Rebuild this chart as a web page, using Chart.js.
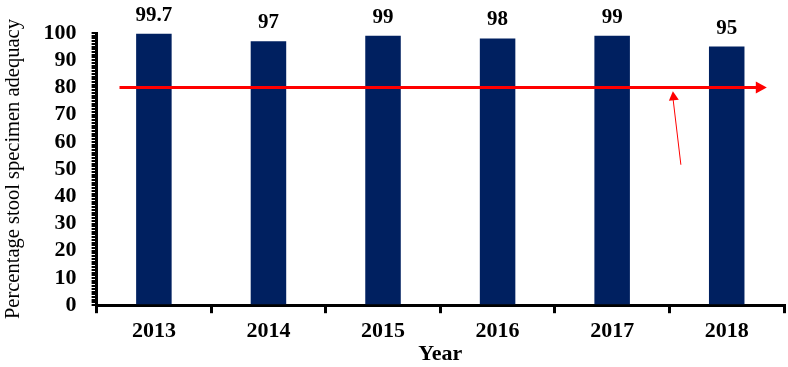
<!DOCTYPE html>
<html>
<head>
<meta charset="utf-8">
<script src="https://cdn.jsdelivr.net/npm/chart.js@4/dist/chart.umd.min.js"></script>
<style>
  html, body { margin: 0; padding: 0; background: #ffffff; }
  #wrap { width: 788px; height: 367px; }
</style>
</head>
<body>
<div id="wrap"><canvas id="adequacyChart" width="788" height="367"></canvas></div>
<script>
// Chart data
const years = ['2013', '2014', '2015', '2016', '2017', '2018'];
const adequacy = [99.7, 97, 99, 98, 99, 95];
const valueLabels = ['99.7', '97', '99', '98', '99', '95'];
const target = 80;
// target arrow runs across the categories (index units)
const targetFrom = -0.3;
const targetTo = 5.35;
// small pointer arrow: [categoryIndex, value]
const pointerStart = [4.6, 51.6];
const pointerEnd = [4.53, 78.6];

const serif = '"Liberation Serif", "Times New Roman", serif';

function arrowHead(ctx, x1, y1, x2, y2, len, half) {
    const a = Math.atan2(y2 - y1, x2 - x1);
    ctx.beginPath();
    ctx.moveTo(x2, y2);
    ctx.lineTo(x2 - len * Math.cos(a) + half * Math.sin(a), y2 - len * Math.sin(a) - half * Math.cos(a));
    ctx.lineTo(x2 - len * Math.cos(a) - half * Math.sin(a), y2 - len * Math.sin(a) + half * Math.cos(a));
    ctx.closePath();
    ctx.fill();
}

// value labels above the bars
const barLabels = {
    id: 'barLabels',
    afterDatasetsDraw(chart) {
        const ctx = chart.ctx;
        const meta = chart.getDatasetMeta(0);
        ctx.save();
        ctx.font = 'bold 21px ' + serif;
        ctx.fillStyle = '#000000';
        ctx.textAlign = 'center';
        ctx.textBaseline = 'bottom';
        meta.data.forEach((bar, i) => {
            ctx.fillText(valueLabels[i], bar.x, bar.y - 8);
        });
        ctx.restore();
    }
};

// red target line and pointer
const targetArrows = {
    id: 'targetArrows',
    afterDatasetsDraw(chart) {
        const ctx = chart.ctx;
        const x = chart.scales.x, y = chart.scales.y;
        ctx.save();
        ctx.strokeStyle = '#ff0000';
        ctx.fillStyle = '#ff0000';

        const ty = y.getPixelForValue(target);
        const x1 = x.getPixelForValue(targetFrom);
        const x2 = x.getPixelForValue(targetTo);
        ctx.lineWidth = 3;
        ctx.beginPath();
        ctx.moveTo(x1, ty);
        ctx.lineTo(x2 - 8, ty);
        ctx.stroke();
        arrowHead(ctx, x1, ty, x2, ty, 11, 6);

        const px1 = x.getPixelForValue(pointerStart[0]);
        const py1 = y.getPixelForValue(pointerStart[1]);
        const px2 = x.getPixelForValue(pointerEnd[0]);
        const py2 = y.getPixelForValue(pointerEnd[1]);
        ctx.lineWidth = 1;
        ctx.beginPath();
        ctx.moveTo(px1, py1);
        ctx.lineTo(px2, py2 + 6);
        ctx.stroke();
        arrowHead(ctx, px1, py1, px2, py2, 9, 5);
        ctx.restore();
    }
};

new Chart(document.getElementById('adequacyChart'), {
    type: 'bar',
    data: {
        labels: years,
        datasets: [{
            data: adequacy,
            backgroundColor: '#002060',
            barPercentage: 0.31,
            categoryPercentage: 1.0
        }]
    },
    options: {
        responsive: false,
        animation: false,
        layout: {
            padding: { top: 33, right: 4, left: 1, bottom: 0 }
        },
        plugins: {
            legend: { display: false },
            tooltip: { enabled: false }
        },
        scales: {
            y: {
                min: 0,
                max: 100,
                border: { display: true, color: '#000000', width: 3 },
                grid: {
                    display: true,
                    drawOnChartArea: false,
                    color: '#000000',
                    lineWidth: 2,
                    tickLength: 5
                },
                ticks: {
                    stepSize: 1,
                    autoSkip: false,
                    padding: 15,
                    color: '#000000',
                    font: { family: serif, size: 22, weight: 'bold' },
                    callback: v => (v % 10 === 0 ? v : '')
                },
                title: {
                    display: true,
                    text: 'Percentage stool specimen adequacy',
                    color: '#000000',
                    font: { family: serif, size: 20.5 },
                    padding: { top: 0, bottom: 3 }
                }
            },
            x: {
                border: { display: true, color: '#000000', width: 3 },
                grid: {
                    display: true,
                    drawOnChartArea: false,
                    offset: true,
                    color: '#000000',
                    lineWidth: 3,
                    tickLength: 8
                },
                ticks: {
                    padding: 5,
                    color: '#000000',
                    font: { family: serif, size: 22, weight: 'bold' }
                },
                title: {
                    display: true,
                    text: 'Year',
                    color: '#000000',
                    font: { family: serif, size: 22, weight: 'bold' },
                    padding: { top: -8, bottom: -1 }
                }
            }
        }
    },
    plugins: [barLabels, targetArrows]
});
</script>
</body>
</html>
